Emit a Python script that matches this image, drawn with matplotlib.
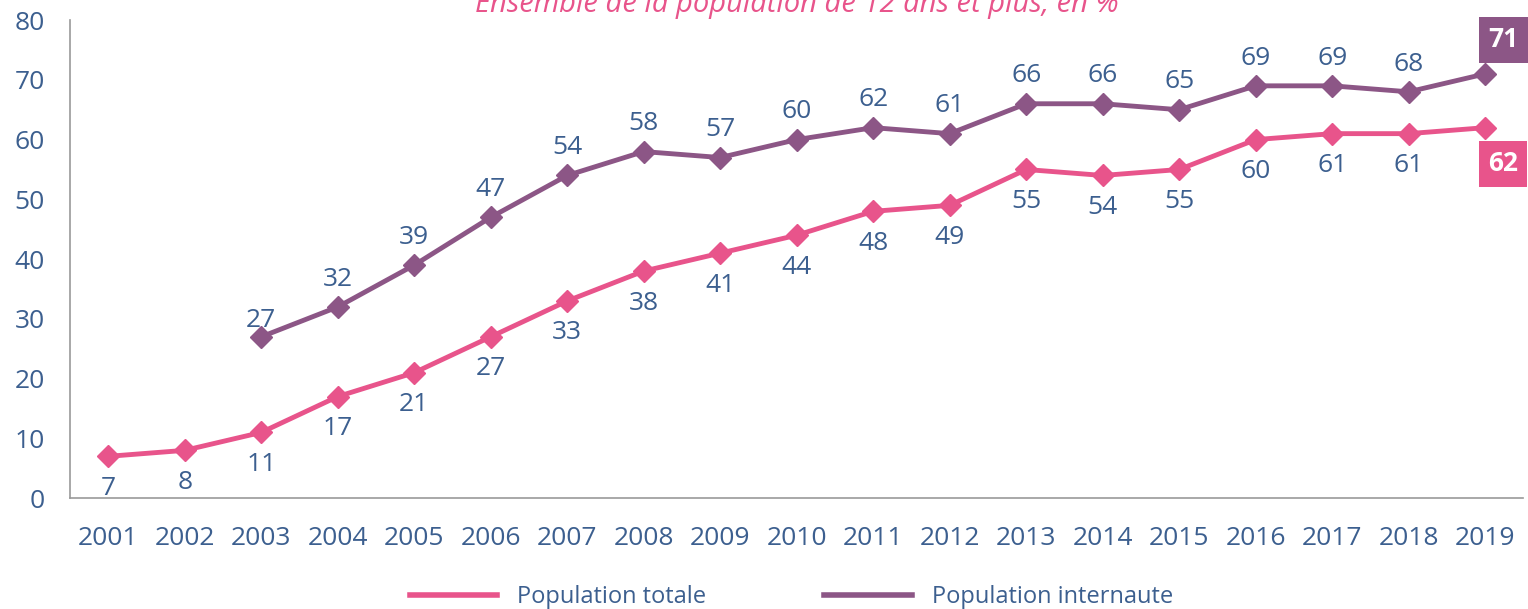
import matplotlib.pyplot as plt
import numpy as np

plt.rcParams['font.family'] = ['Open Sans', 'DejaVu Sans']

years = [str(y) for y in range(2001, 2020)]
totale = [7, 8, 11, 17, 21, 27, 33, 38, 41, 44, 48, 49, 55, 54, 55, 60, 61, 61, 62]
internaute = [None, None, 27, 32, 39, 47, 54, 58, 57, 60, 62, 61, 66, 66, 65, 69, 69, 68, 71]

PINK = "#E8548B"
PURPLE = "#8C5686"
BLUE = "#3C5F8F"

fig = plt.figure(figsize=(15.28, 6.09), dpi=100)
ax = fig.add_axes([0.0458, 0.182, 0.9512, 0.785])

x = np.arange(len(years))
y_int = np.array([np.nan if v is None else v for v in internaute], dtype=float)

ax.plot(x, totale, color=PINK, lw=3.5, marker='D', ms=11.5, label="Population totale")
ax.plot(x, y_int, color=PURPLE, lw=3.5, marker='D', ms=11.5, label="Population internaute")

FS = 19
# data labels
for i, v in enumerate(totale):
    if i == len(totale) - 1:
        ax.annotate(str(v), (i, v), xytext=(13, -26), textcoords='offset points',
                    ha='center', va='center', fontsize=FS, fontweight='bold', color='white',
                    bbox=dict(boxstyle='square,pad=0.35', fc=PINK, ec='none'))
    else:
        ax.annotate(str(v), (i, v), xytext=(0, -23), textcoords='offset points',
                    ha='center', va='center', fontsize=FS, color=BLUE)
for i, v in enumerate(internaute):
    if v is None:
        continue
    if i == len(internaute) - 1:
        ax.annotate(str(v), (i, v), xytext=(13, 24.5), textcoords='offset points',
                    ha='center', va='center', fontsize=FS, fontweight='bold', color='white',
                    bbox=dict(boxstyle='square,pad=0.35', fc=PURPLE, ec='none'))
    elif i == 2:
        ax.annotate(str(v), (i, v), xytext=(0, 12), textcoords='offset points',
                    ha='center', va='center', fontsize=FS, color=BLUE)
    else:
        ax.annotate(str(v), (i, v), xytext=(0, 20), textcoords='offset points',
                    ha='center', va='center', fontsize=FS, color=BLUE)

ax.set_xlim(-0.5, len(years) - 0.5)
ax.set_ylim(0, 80)
ax.set_xticks(x)
ax.set_xticklabels(years)
ax.set_yticks(range(0, 81, 10))
ax.tick_params(axis='both', length=0, labelsize=FS, labelcolor=BLUE)
ax.tick_params(axis='x', pad=20)
ax.tick_params(axis='y', pad=18)
for s in ['top', 'right']:
    ax.spines[s].set_visible(False)
for s in ['left', 'bottom']:
    ax.spines[s].set_color('#999999')
    ax.spines[s].set_linewidth(1.2)

fig.text(0.5215, 1 - 12 / 609, "Ensemble de la population de 12 ans et plus, en %",
         ha='center', va='baseline', fontsize=21, style='italic', color=PINK)

leg = fig.legend(loc='center', bbox_to_anchor=(0.518, 0.02), ncol=2, frameon=False,
                 fontsize=17, handlelength=3.7, columnspacing=5, handletextpad=0.85)
for t in leg.get_texts():
    t.set_color(BLUE)
for line in leg.get_lines():
    line.set_marker('')
    line.set_linewidth(4)

fig.savefig("out.png", dpi=100)
